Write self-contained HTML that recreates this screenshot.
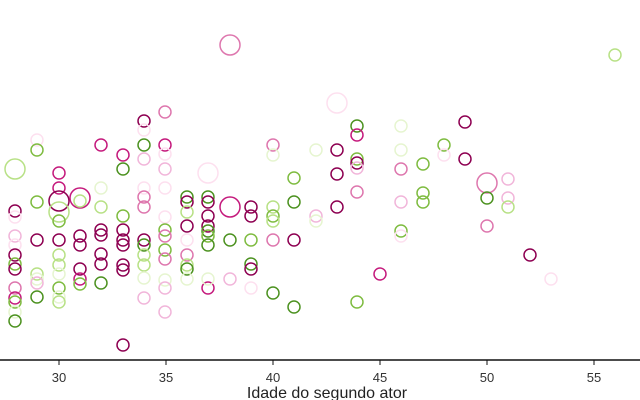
<!DOCTYPE html>
<html><head><meta charset="utf-8"><style>body{margin:0;background:#fff}svg{display:block}
.a{stroke:#8e0152}.b{stroke:#c51b7d}.c{stroke:#de77ae}.d{stroke:#f1b6da}.e{stroke:#fde0ef}.f{stroke:#e6f5d0}.g{stroke:#b8e186}.h{stroke:#7fbc41}.i{stroke:#4d9221}
</style></head><body>
<svg width="640" height="400" xmlns="http://www.w3.org/2000/svg" font-family="Liberation Sans, sans-serif">
<g fill="none" stroke-width="1.5">
<circle class="c" cx="165" cy="112" r="6"/><circle class="a" cx="144" cy="121" r="6"/><circle class="e" cx="144" cy="130" r="6"/><circle class="i" cx="144" cy="145" r="6"/><circle class="d" cx="144" cy="159" r="6"/><circle class="b" cx="101" cy="145" r="6"/><circle class="b" cx="165" cy="145" r="6"/><circle class="e" cx="165" cy="154" r="6"/><circle class="d" cx="165" cy="169" r="6"/><circle class="e" cx="165" cy="188" r="6"/><circle class="e" cx="37" cy="140" r="6"/><circle class="h" cx="37" cy="150" r="6"/><circle class="g" cx="15" cy="169" r="10"/><circle class="b" cx="123" cy="155" r="6"/><circle class="i" cx="123" cy="169" r="6"/><circle class="b" cx="59" cy="173" r="6"/><circle class="b" cx="59" cy="188" r="6"/><circle class="a" cx="59" cy="201" r="10"/><circle class="g" cx="59" cy="212" r="10"/><circle class="h" cx="59" cy="221" r="6"/><circle class="b" cx="80" cy="198" r="10"/><circle class="g" cx="80" cy="201" r="6"/><circle class="h" cx="37" cy="202" r="6"/><circle class="a" cx="15" cy="211" r="6"/><circle class="e" cx="15" cy="217" r="6"/><circle class="f" cx="101" cy="188" r="6"/><circle class="g" cx="101" cy="207" r="6"/><circle class="h" cx="123" cy="216" r="6"/><circle class="a" cx="123" cy="230" r="6"/><circle class="a" cx="123" cy="240" r="6"/><circle class="e" cx="144" cy="188" r="6"/><circle class="c" cx="144" cy="197" r="6"/><circle class="c" cx="144" cy="207" r="6"/><circle class="e" cx="165" cy="217" r="6"/><circle class="i" cx="187" cy="197" r="6"/><circle class="a" cx="187" cy="202" r="6"/><circle class="g" cx="187" cy="212" r="6"/><circle class="a" cx="187" cy="226" r="6"/><circle class="e" cx="208" cy="173" r="10"/><circle class="i" cx="208" cy="197" r="6"/><circle class="a" cx="208" cy="202" r="6"/><circle class="a" cx="208" cy="216" r="6"/><circle class="a" cx="208" cy="226" r="6"/><circle class="i" cx="208" cy="231" r="6"/><circle class="h" cx="208" cy="236" r="6"/><circle class="i" cx="208" cy="245" r="6"/><circle class="b" cx="230" cy="207" r="10"/><circle class="a" cx="251" cy="207" r="6"/><circle class="a" cx="251" cy="216" r="6"/><circle class="g" cx="273" cy="207" r="6"/><circle class="h" cx="273" cy="216" r="6"/><circle class="g" cx="273" cy="221" r="6"/><circle class="h" cx="294" cy="178" r="6"/><circle class="i" cx="294" cy="202" r="6"/><circle class="d" cx="316" cy="216" r="6"/><circle class="f" cx="316" cy="221" r="6"/><circle class="d" cx="15" cy="236" r="6"/><circle class="e" cx="15" cy="245" r="6"/><circle class="a" cx="37" cy="240" r="6"/><circle class="a" cx="59" cy="240" r="6"/><circle class="a" cx="80" cy="236" r="6"/><circle class="a" cx="80" cy="245" r="6"/><circle class="a" cx="101" cy="230" r="6"/><circle class="a" cx="101" cy="235" r="6"/><circle class="a" cx="101" cy="254" r="6"/><circle class="a" cx="101" cy="264" r="6"/><circle class="a" cx="123" cy="245" r="6"/><circle class="a" cx="144" cy="240" r="6"/><circle class="i" cx="144" cy="245" r="6"/><circle class="g" cx="144" cy="255" r="6"/><circle class="g" cx="144" cy="265" r="6"/><circle class="h" cx="165" cy="230" r="6"/><circle class="c" cx="165" cy="236" r="6"/><circle class="h" cx="165" cy="250" r="6"/><circle class="c" cx="165" cy="259" r="6"/><circle class="e" cx="187" cy="240" r="6"/><circle class="c" cx="187" cy="255" r="6"/><circle class="g" cx="187" cy="265" r="6"/><circle class="i" cx="187" cy="269" r="6"/><circle class="i" cx="230" cy="240" r="6"/><circle class="h" cx="251" cy="240" r="6"/><circle class="c" cx="273" cy="240" r="6"/><circle class="a" cx="294" cy="240" r="6"/><circle class="a" cx="15" cy="255" r="6"/><circle class="h" cx="15" cy="264" r="6"/><circle class="a" cx="15" cy="269" r="6"/><circle class="g" cx="37" cy="274" r="6"/><circle class="f" cx="37" cy="279" r="6"/><circle class="g" cx="59" cy="255" r="6"/><circle class="g" cx="59" cy="265" r="6"/><circle class="f" cx="59" cy="274" r="6"/><circle class="h" cx="59" cy="288" r="6"/><circle class="a" cx="80" cy="269" r="6"/><circle class="b" cx="80" cy="279" r="6"/><circle class="h" cx="80" cy="284" r="6"/><circle class="c" cx="15" cy="288" r="6"/><circle class="b" cx="15" cy="298" r="6"/><circle class="h" cx="15" cy="302" r="6"/><circle class="f" cx="15" cy="312" r="6"/><circle class="i" cx="15" cy="321" r="6"/><circle class="d" cx="37" cy="283" r="6"/><circle class="i" cx="37" cy="297" r="6"/><circle class="f" cx="59" cy="297" r="6"/><circle class="g" cx="59" cy="302" r="6"/><circle class="i" cx="101" cy="283" r="6"/><circle class="a" cx="123" cy="265" r="6"/><circle class="a" cx="123" cy="270" r="6"/><circle class="f" cx="144" cy="278" r="6"/><circle class="d" cx="144" cy="298" r="6"/><circle class="f" cx="165" cy="280" r="6"/><circle class="d" cx="165" cy="288" r="6"/><circle class="d" cx="165" cy="312" r="6"/><circle class="f" cx="187" cy="279" r="6"/><circle class="b" cx="208" cy="288" r="6"/><circle class="f" cx="208" cy="279" r="6"/><circle class="d" cx="230" cy="279" r="6"/><circle class="i" cx="251" cy="264" r="6"/><circle class="a" cx="251" cy="269" r="6"/><circle class="e" cx="251" cy="288" r="6"/><circle class="i" cx="273" cy="293" r="6"/><circle class="i" cx="294" cy="307" r="6"/><circle class="a" cx="123" cy="345" r="6"/>
<circle class="i" cx="357" cy="126" r="6"/><circle class="b" cx="357" cy="135" r="6"/><circle class="h" cx="357" cy="159" r="6"/><circle class="a" cx="357" cy="163" r="6"/><circle class="d" cx="357" cy="168" r="6"/><circle class="c" cx="357" cy="192" r="6"/><circle class="a" cx="337" cy="150" r="6"/><circle class="a" cx="337" cy="174" r="6"/><circle class="a" cx="337" cy="207" r="6"/><circle class="e" cx="337" cy="103" r="10"/><circle class="f" cx="401" cy="126" r="6"/><circle class="f" cx="401" cy="150" r="6"/><circle class="c" cx="401" cy="169" r="6"/><circle class="d" cx="401" cy="202" r="6"/><circle class="h" cx="401" cy="231" r="6"/><circle class="e" cx="401" cy="236" r="6"/><circle class="h" cx="444" cy="145" r="6"/><circle class="e" cx="444" cy="155" r="6"/><circle class="h" cx="423" cy="164" r="6"/><circle class="h" cx="423" cy="193" r="6"/><circle class="h" cx="423" cy="202" r="6"/><circle class="a" cx="465" cy="122" r="6"/><circle class="a" cx="465" cy="159" r="6"/><circle class="c" cx="487" cy="183" r="10"/><circle class="i" cx="487" cy="198" r="6"/><circle class="c" cx="487" cy="226" r="6"/><circle class="d" cx="508" cy="179" r="6"/><circle class="d" cx="508" cy="198" r="6"/><circle class="g" cx="508" cy="207" r="6"/><circle class="a" cx="530" cy="255" r="6"/><circle class="e" cx="551" cy="279" r="6"/><circle class="b" cx="380" cy="274" r="6"/><circle class="h" cx="357" cy="302" r="6"/><circle class="g" cx="615" cy="55" r="6"/><circle class="c" cx="230" cy="45" r="10"/><circle class="c" cx="273" cy="145" r="6"/><circle class="f" cx="273" cy="155" r="6"/><circle class="f" cx="316" cy="150" r="6"/>
</g>
<line x1="0" y1="360" x2="640" y2="360" stroke="#111" stroke-width="1.5"/>
<g stroke="#111"><line x1="59" y1="360" x2="59" y2="365"/><line x1="166" y1="360" x2="166" y2="365"/><line x1="273" y1="360" x2="273" y2="365"/><line x1="380" y1="360" x2="380" y2="365"/><line x1="487" y1="360" x2="487" y2="365"/><line x1="594" y1="360" x2="594" y2="365"/></g>
<g font-size="13" fill="#333" text-anchor="middle"><text x="59" y="382">30</text><text x="166" y="382">35</text><text x="273" y="382">40</text><text x="380" y="382">45</text><text x="487" y="382">50</text><text x="594" y="382">55</text></g>
<text x="327" y="398" font-size="16" fill="#222" text-anchor="middle">Idade do segundo ator</text>
</svg>
</body></html>
